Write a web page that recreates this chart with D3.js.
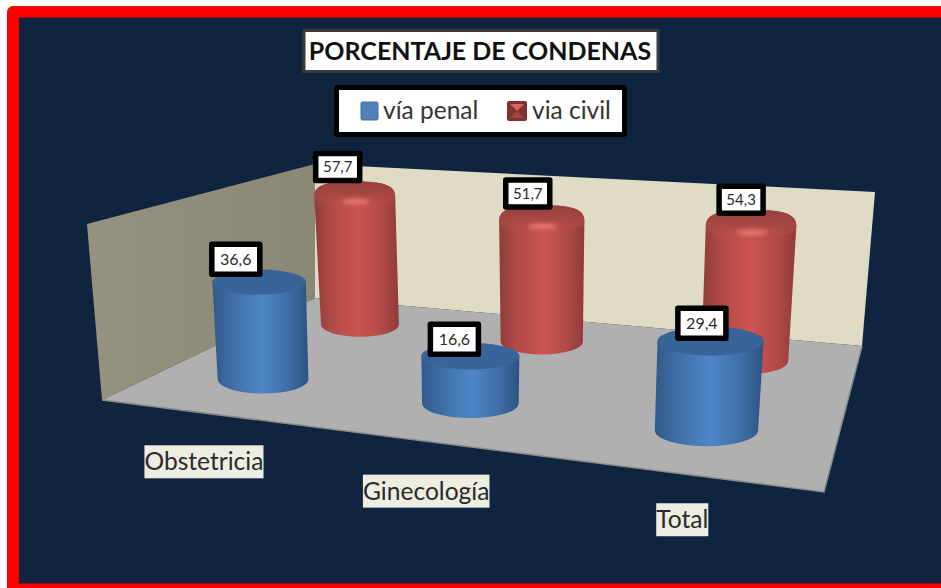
<!DOCTYPE html>
<html><head><meta charset="utf-8">
<script src="https://cdn.jsdelivr.net/npm/d3@7"></script>
<style>html,body{margin:0;padding:0;background:#fff}svg{display:block}text{font-family:Lato,"Open Sans",sans-serif}</style>
</head><body><svg id="c" width="941" height="588"></svg>
<script>
const titleText = "PORCENTAJE DE CONDENAS";
const categories = ["Obstetricia","Ginecología","Total"];
const seriesNames = ["vía penal","via civil"];
const viaPenal = [36.6,16.6,29.4];
const viaCivil = [57.7,51.7,54.3];
const fmt = v => String(v).replace(".",",");

const svg = d3.select("#c");
const defs = svg.append("defs");

// frame
svg.append("rect").attr("x",7).attr("y",6).attr("width",945).attr("height",595).attr("rx",6).attr("fill","#ff0000");
svg.append("rect").attr("x",19).attr("y",17.5).attr("width",922).attr("height",566).attr("fill","#10243f");

// floor perspective: unit square -> picture
const FL=[102,400],FR=[824,492],BR=[862,346],BL=[315,298];
const dx1=FR[0]-BR[0],dx2=BL[0]-BR[0],sx=FL[0]-FR[0]+BR[0]-BL[0];
const dy1=FR[1]-BR[1],dy2=BL[1]-BR[1],sy=FL[1]-FR[1]+BR[1]-BL[1];
const den=dx1*dy2-dx2*dy1;
const g=(sx*dy2-dx2*sy)/den,h=(dx1*sy-sx*dy1)/den;
const a=FR[0]-FL[0]+g*FR[0],b=BL[0]-FL[0]+h*BL[0];
const d=FR[1]-FL[1]+g*FR[1],e=BL[1]-FL[1]+h*BL[1];
const depth=(u,v)=>g*u+h*v+1;
const floorPt=(u,v)=>{const w=depth(u,v);return [(a*u+b*v+FL[0])/w,(d*u+e*v+FL[1])/w];};

const uScale=d3.scalePoint().domain(categories).range([0,1]).padding(0.5);
const vScale=d3.scalePoint().domain(seriesNames).range([0.25,0.77]);
const heightScale=d3.scaleLinear().domain([0,63]).range([0,176]);

// layout tuning, per category
const leanByCat=[-0.04,0,0.046];
const labelNudgePenal=[[0,-4],[0,2],[0,1]];
const labelNudgeCivil=[[1,0],[0,2],[0,3]];
const catLabelDy=[0,1,-3];

// walls and floor
const poly=(pts,fill)=>svg.append("polygon").attr("points",pts.map(p=>p.join(",")).join(" ")).attr("fill",fill);
const lw=defs.append("linearGradient").attr("id","lw").attr("x1",0).attr("x2",1).attr("y1",0).attr("y2",0);
lw.append("stop").attr("offset",0).attr("stop-color","#95927f");
lw.append("stop").attr("offset",1).attr("stop-color","#8a8775");
poly([[87,224],[315,164],BL,FL],"url(#lw)");
poly([[315,164],[875,192],BR,BL],"#dfdbc4");
poly([FL,FR,BR,BL],"#b0b0b0");
svg.append("path").attr("d",d3.line()([FL,FR,BR])).attr("fill","none").attr("stroke","#8a8a8a").attr("stroke-width",1.5);

// gradients
const palettes={
 "vía penal":{edgeL:"#32598a",mid1:"#3f6fa8",mid:"#4f86c8",edgeR:"#2c5380",top:"#38649a"},
 "via civil":{edgeL:"#8f3c3a",mid1:"#b34b48",mid:"#cb5350",edgeR:"#8f3b39",top:"#a04543"}
};
seriesNames.forEach((s,i)=>{
  const p=palettes[s];
  const gr=defs.append("linearGradient").attr("id","body"+i).attr("x1",0).attr("x2",1).attr("y1",0).attr("y2",0);
  [[0,p.edgeL],[.22,p.mid1],[.52,p.mid],[.78,p.mid1],[1,p.edgeR]].forEach(q=>gr.append("stop").attr("offset",q[0]).attr("stop-color",q[1]));
});
const cap=defs.append("linearGradient").attr("id","cap").attr("x1",0).attr("x2",0).attr("y1",0).attr("y2",1);
cap.append("stop").attr("offset",0).attr("stop-color","#953f3d");
cap.append("stop").attr("offset",.55).attr("stop-color","#a84846").attr("stop-opacity",.9);
cap.append("stop").attr("offset",1).attr("stop-color","#c0504d").attr("stop-opacity",0);
defs.append("filter").attr("id","blur").attr("x","-50%").attr("y","-100%").attr("width","200%").attr("height","300%")
  .append("feGaussianBlur").attr("stdDeviation",2.2);

// marks: back row first, then front row
const rows=[{s:"via civil",vals:viaCivil,idx:1},{s:"vía penal",vals:viaPenal,idx:0}];
const labels=[];
rows.forEach(r=>{
  categories.forEach((cat,ci)=>{
    const val=r.vals[ci],u=uScale(cat),v=vScale(r.s),w=depth(u,v);
    let [bx,by]=floorPt(u,v);
    bx+=r.idx?0:1;
    const H=heightScale(val)/w;
    const rx=47.7/w, ryB=rx*.31;
    const tx=bx+leanByCat[ci]*H, ty=by-H;
    const rxT=rx*(1+H*.0003), ryT=rxT*(r.idx?.26:.27);
    const G=svg.append("g");
    if(r.idx===1){
      const ap=ty-ryT-1;
      G.append("path").attr("d",`M${bx-rx},${by}A${rx},${ryB} 0 0 0 ${bx+rx},${by}L${tx+rxT},${ty+3}`+
           `C${tx+rxT},${ap+2} ${tx+rxT*.6},${ap} ${tx},${ap}C${tx-rxT*.6},${ap} ${tx-rxT},${ap+2} ${tx-rxT},${ty+3}Z`)
        .attr("fill","url(#body1)");
      G.append("path").attr("d",`M${tx-rxT},${ty+5}C${tx-rxT},${ap+2} ${tx-rxT*.6},${ap} ${tx},${ap}C${tx+rxT*.6},${ap} ${tx+rxT},${ap+2} ${tx+rxT},${ty+5}A${rxT},${ryT} 0 0 1 ${tx-rxT},${ty+5}Z`)
        .attr("fill","url(#cap)");
      G.append("ellipse").attr("cx",tx+1).attr("cy",ty+ryT-2).attr("rx",rxT*.34).attr("ry",2.4)
        .attr("fill","#ee7d77").attr("filter","url(#blur)");
    } else {
      G.append("path").attr("d",`M${bx-rx},${by}A${rx},${ryB} 0 0 0 ${bx+rx},${by}L${tx+rxT},${ty}A${rxT},${ryT} 0 0 0 ${tx-rxT},${ty}Z`).attr("fill","url(#body0)");
      G.append("ellipse").attr("cx",tx).attr("cy",ty).attr("rx",rxT).attr("ry",ryT).attr("fill",palettes[r.s].top);
    }
    labels.push({val,tx,ty,u,ci,civil:r.idx===1});
  });
});

// value labels
labels.forEach(l=>{
  const W=l.civil?44:48,Ht=l.civil?27:30;
  const fan=(l.u-.5)*(l.civil?12:22);
  const nudge=(l.civil?labelNudgeCivil:labelNudgePenal)[l.ci];
  const cx=l.tx+(l.civil?-14:-16)+fan+nudge[0], cy=l.ty+(l.civil?-26:-19)+nudge[1];
  svg.append("rect").attr("x",cx-W/2).attr("y",cy-Ht/2).attr("width",W).attr("height",Ht)
    .attr("fill","#fff").attr("stroke","#000").attr("stroke-width",5.5).attr("stroke-linejoin","round");
  svg.append("text").attr("x",cx).attr("y",cy+5.5).attr("text-anchor","middle").attr("font-size",l.civil?15:16).attr("fill","#2a2a2a").text(fmt(l.val));
});

// category labels
categories.forEach((cat,i)=>{
  const [x,y0]=floorPt(uScale(cat),0);
  const y=y0+catLabelDy[i];
  const t=svg.append("text").attr("x",x+1.5).attr("y",y+57.5).attr("text-anchor","middle").attr("font-size",24.6).attr("fill","#2a2a2a").text(cat);
  const bb=t.node().getBBox();
  svg.insert("rect","text:last-child").attr("x",bb.x).attr("y",y+32.5).attr("width",bb.width).attr("height",33).attr("fill","#eeede2");
});

// title
svg.append("rect").attr("x",304).attr("y",30.5).attr("width",354).attr("height",41).attr("fill","#fff").attr("stroke","#3a3a3a").attr("stroke-width",3);
svg.append("text").attr("x",480).attr("y",60).attr("text-anchor","middle").attr("font-size",25).attr("font-weight",700).attr("fill","#111").text(titleText);

// legend
svg.append("rect").attr("x",336.5).attr("y",87.5).attr("width",288).attr("height",47).attr("fill","#fff").attr("stroke","#000").attr("stroke-width",5).attr("rx",1);
svg.append("rect").attr("x",361).attr("y",102).attr("width",17).attr("height",18).attr("rx",1.5).attr("fill","#4f81bd").attr("stroke","#3a6ea5");
svg.append("rect").attr("x",507).attr("y",101).attr("width",20).attr("height",20).attr("rx",2).attr("fill","#7e3331");
[[[510,104],[524,104],[517,111]],[[510,118],[524,118],[517,111]]].forEach((p,i)=>
  svg.append("polygon").attr("points",p.map(q=>q.join(",")).join(" ")).attr("fill",i?"#a04542":"#d9655f"));
svg.append("text").attr("x",383).attr("y",119).attr("font-size",24.5).attr("fill","#333").text(seriesNames[0]);
svg.append("text").attr("x",532).attr("y",119).attr("font-size",24.5).attr("fill","#333").text(seriesNames[1]);
</script></body></html>
